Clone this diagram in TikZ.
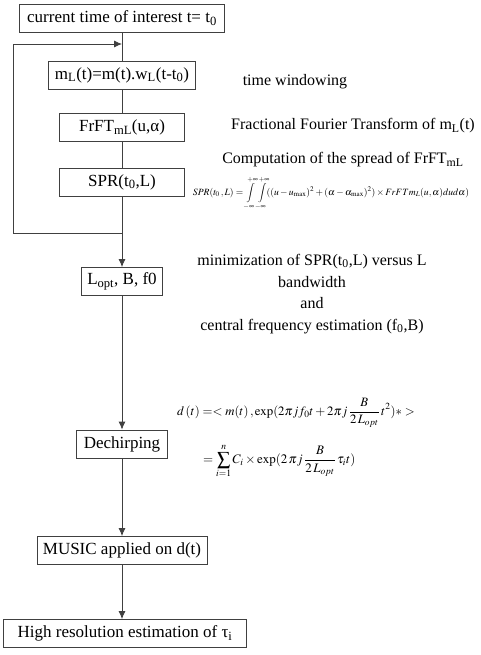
\documentclass[tikz,border=0pt]{standalone}
\usepackage{mathptmx}
\usepackage{fontspec}
\setmainfont{Liberation Serif}
\usetikzlibrary{positioning,calc,arrows.meta}

\begin{document}
\begin{tikzpicture}[x=1pt,y=-1pt,>={Latex[length=8,width=7]},
    every node/.style={font=\fontsize{16}{21.7}\selectfont},
    stepbox/.style={draw=black!75,line width=0.8pt,minimum height=28,inner xsep=5,inner ysep=0,
                    font=\fontsize{17}{20}\selectfont},
    formula/.style={font=\fontsize{9.6}{12}\selectfont,inner sep=0}]

    \useasboundingbox (0,0) rectangle (480,655);

    \newcommand*{\spine}{122}%
    \newcommand*{\loopx}{13}%

    % processing chain
    \node[stepbox,minimum width=205] (start)   at (\spine,18)    {current time of interest t= t\textsubscript{0}};
    \node[stepbox,minimum width=147] (window)  at (\spine,75)    {m\textsubscript{L}(t)=m(t).w\textsubscript{L}(t-t\textsubscript{0})};
    \node[stepbox,minimum width=125] (frft)    at (\spine,127.5) {FrFT\textsubscript{mL}(u,α)};
    \node[stepbox,minimum width=125] (spr)     at (\spine,182)   {SPR(t\textsubscript{0},L)};
    \node[stepbox,minimum width=81]  (lopt)    at (\spine,281.5) {L\textsubscript{opt}, B, f0};
    \node[stepbox,minimum width=91]  (dechirp) at (\spine,444)   {Dechirping};
    \node[stepbox,minimum width=170] (music)   at (\spine,550.5) {MUSIC applied on d(t)};
    \node[stepbox,minimum width=243] (result)  at (125,633.5)    {High resolution estimation of τ\textsubscript{i}};

    \coordinate (loopin)  at (\spine,44);
    \coordinate (loopout) at (\spine,233);

    % plain links
    \foreach \a/\b in {start/window, window/frft, frft/spr}
        \draw[black!75,line width=0.8pt] (\a) -- (\b);
    \draw[black!75,line width=0.8pt] (spr) -- (loopout);

    % feedback over L
    \draw[black!75,line width=0.8pt,->] (loopout) -- (\loopx,233) |- (loopin);

    % arrows down the chain
    \draw[black!75,line width=0.8pt,->] (loopout) -- (lopt);
    \foreach \a/\b in {lopt/dechirp, dechirp/music}
        \draw[black!75,line width=0.8pt,->] (\a) -- (\b);
    \draw[black!75,line width=0.8pt,->] (music) -- (music |- result.north);

    % notes on the right
    \node (winnote)  at (295,82)  {time windowing};
    \node (frftnote) at (353,126) {Fractional Fourier Transform of m\textsubscript{L}(t)};
    \node (sprnote)  at (343,160) {Computation of the spread of FrFT\textsubscript{mL}};
    \node[formula] (sprfml) at (331,193)
        {$\displaystyle SPR(t_0\,,L)=\int\limits_{-\infty}^{+\infty}\int\limits_{-\infty}^{+\infty}\!((u-u_{\mathrm{max}})^2+(\alpha-\alpha_{\mathrm{max}})^2)\times FrFTm_L(u,\alpha)du d\alpha)$};
    \node[align=center] (minnote) at (312,294)
        {minimization of SPR(t\textsubscript{0},L) versus L\\bandwidth\\and\\central frequency estimation (f\textsubscript{0},B)};
    \node[formula,font=\fontsize{12.8}{15}\selectfont,anchor=west] (dfml) at (177,413)
        {$\displaystyle d\,(t) =< m(t)\,, \exp(2\pi j f_0 t+2\pi j\,\frac{B}{2\,L_{opt}}\,t^2)* >$};
    \node[formula,font=\fontsize{13}{15}\selectfont,anchor=west] (dsum) at (203,461)
        {$\displaystyle =\sum_{i=1}^{n} C_i\times\exp(2\,\pi j\,\frac{B}{2\,L_{opt}}\,\tau_i t)$};

\end{tikzpicture}
\end{document}
